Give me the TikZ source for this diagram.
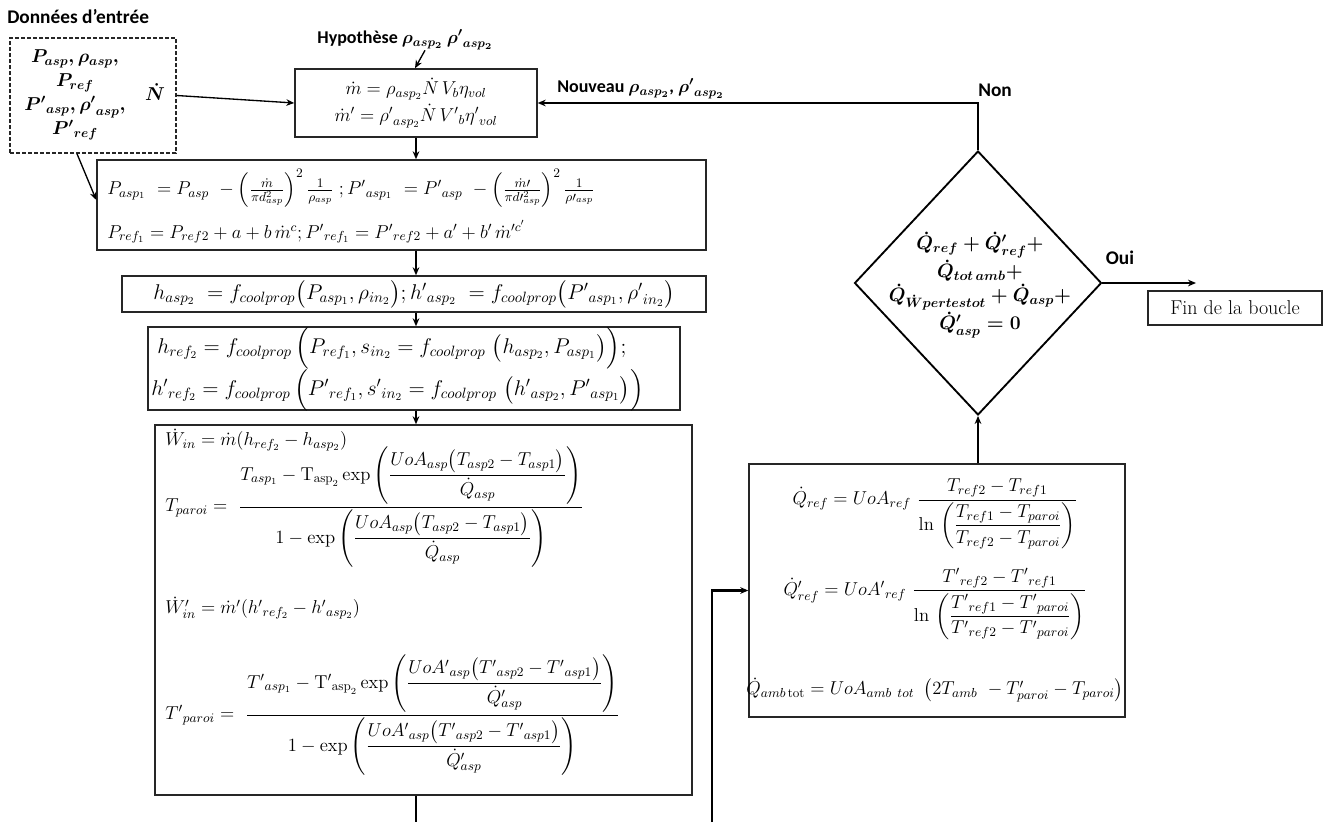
\RequirePackage{fix-cm}
\documentclass[tikz,border=0pt]{standalone}
\usepackage{amsmath}
\usepackage{fontspec}
\newfontfamily\carl{Carlito}
\usetikzlibrary{arrows.meta,shapes.geometric}
\newdimen\px \px=0.75pt
\tikzset{
  box/.style={draw=black!85, line width=1.1pt, inner sep=0pt},
  arr/.style={-{Stealth[length=6pt,width=5pt]}, line width=1pt},
  conn/.style={line width=1.6pt},
  lbl/.style={font=\carl\bfseries\fontsize{14.5}{17}\selectfont\boldmath, inner sep=0pt},
  slbl/.style={font=\carl\bfseries\fontsize{13.5}{16}\selectfont\boldmath, inner sep=0pt},
  eq/.style={font=\fontsize{14}{17}\selectfont, inner sep=0pt},
  beq/.style={font=\fontsize{16}{19}\selectfont, inner sep=0pt},
}
\begin{document}
\begin{tikzpicture}[x=0.75pt,y=-0.75pt]
\useasboundingbox (0,0) rectangle (1326,822);

% inputs
\node[lbl,anchor=west] (titre) at (7,17) {Données d’entrée};
\node[box,dashed,dash pattern=on 3pt off 1.5pt,minimum width=166\px,minimum height=115\px] (inp) at (93,95.5) {};
\node[eq,align=center,font=\fontsize{14}{17}\selectfont\boldmath] (inpt) at (75,95)
  {$P_{asp},\rho_{asp},$\\[1pt] $P_{ref}$\\[1pt] ${P'}_{asp},{\rho'}_{asp},$\\[1pt] ${P'}_{ref}$};
\node[eq,font=\fontsize{14}{17}\selectfont\boldmath] (ndot) at (155,92) {$\dot N$};

% mdot box
\node[box,eq,minimum width=242\px,minimum height=68\px,align=center] (m) at (416,103)
  {$\dot m = \rho_{asp_2}\dot N\,V_b\eta_{vol}$\\[3pt] $\dot m' = {\rho'}_{asp_2}\dot N\,{V'}_b{\eta'}_{vol}$};
\node[slbl] (hyp) at (405,40) {Hypothèse $\rho_{asp_2}\ {\rho'}_{asp_2}$};
\draw[arr] ([xshift=20\px]hyp.south) -- ([xshift=-1\px]m.north);
\node[slbl,anchor=west] (nouv) at (557,89) {Nouveau $\rho_{asp_2}$, ${\rho'}_{asp_2}$};

\draw[arr] (inp.east) -- (m.west);

% P box
\node[box,minimum width=609\px,minimum height=90\px] (pb) at (401.5,205) {};
\node[eq,anchor=west] (p1) at (107,188)
  {$P_{asp_1}\ = P_{asp}\ -\left(\frac{\dot m}{\pi d_{asp}^2}\right)^{2}\frac{1}{\rho_{asp}}\;;{P'}_{asp_1}\ = {P'}_{asp}\ -\left(\frac{\dot m\prime}{\pi d\prime_{asp}^{2}}\right)^{2}\frac{1}{\rho\prime_{asp}}$};
\node[eq,anchor=west] (p2) at (107,232)
  {$P_{ref_1} = P_{ref2} + a + b\,\dot m^{c};{P'}_{ref_1} = {P'}_{ref2} + a' + b'\,\dot{m}'^{c'}$};
\draw[arr] ([xshift=-16\px]inp.south) -- ([yshift=5\px]pb.west);

% h_asp box
\node[box,beq,minimum width=584\px,minimum height=36\px] (ha) at (414,294)
  {$h_{asp_2}\ = f_{coolprop}\bigl(P_{asp_1},\rho_{in_2}\bigr);{h'}_{asp_2}\ = f_{coolprop}\bigl({P'}_{asp_1},{\rho'}_{in_2}\bigr)$};

% h_ref box
\node[box,minimum width=532\px,minimum height=83\px] (hr) at (414,368.5) {};
\node[beq,anchor=west] (hr1) at (157,348)
  {$h_{ref_2} = f_{coolprop}\,\Bigl(P_{ref_1}, s_{in_2} = f_{coolprop}\ \bigl(h_{asp_2}, P_{asp_1}\bigr)\Bigr);$};
\node[beq,anchor=west] (hr2) at (151,390)
  {${h'}_{ref_2} = f_{coolprop}\,\Bigl({P'}_{ref_1}, {s'}_{in_2} = f_{coolprop}\ \bigl({h'}_{asp_2}, {P'}_{asp_1}\bigr)\Bigr)$};

% big box
\node[box,minimum width=537\px,minimum height=370\px] (bb) at (423.5,610) {};
\node[eq,anchor=west] (w1) at (165,440) {$\dot W_{in} = \dot m(h_{ref_2} - h_{asp_2})$};
\node[eq,anchor=west] (t1) at (165,507)
  {$T_{paroi} =\ \dfrac{T_{asp_1} - \mathrm{T}_{\mathrm{asp}_2}\exp\left(\dfrac{UoA_{asp}\bigl(T_{asp2}-T_{asp1}\bigr)}{\dot Q_{asp}}\right)}{1-\exp\left(\dfrac{UoA_{asp}\bigl(T_{asp2}-T_{asp1}\bigr)}{\dot Q_{asp}}\right)}$};
\node[eq,anchor=west] (w2) at (165,608) {${\dot W'}_{in} = \dot m'({h'}_{ref_2} - {h'}_{asp_2})$};
\node[eq,anchor=west] (t2) at (165,715)
  {${T'}_{paroi} =\ \dfrac{{T'}_{asp_1} - {\mathrm{T}'}_{\mathrm{asp}_2}\exp\left(\dfrac{{UoA'}_{asp}\bigl({T'}_{asp2}-{T'}_{asp1}\bigr)}{{\dot Q'}_{asp}}\right)}{1-\exp\left(\dfrac{{UoA'}_{asp}\bigl({T'}_{asp2}-{T'}_{asp1}\bigr)}{{\dot Q'}_{asp}}\right)}$};

% left column arrows
\draw[arr] (m.south) -- (m.south |- pb.north);
\draw[arr] (m.south |- pb.south) -- (m.south |- ha.north);
\draw[arr] (m.south |- ha.south) -- (m.south |- hr.north);
\draw[arr] (m.south |- hr.south) -- (m.south |- bb.north);
\coordinate (bot) at (416,822);
\draw[line width=1.5pt] (bot |- bb.south) -- (bot);

% diamond
\node[draw,diamond,line width=1.4pt,minimum width=247\px,minimum height=264\px,inner sep=0pt] (d) at (978,283) {};
\node[eq,align=center,font=\fontsize{14.5}{18}\selectfont\boldmath] (dt) at (980,285)
  {$\dot Q_{ref}+{\dot Q'}_{ref}+$\\ $\dot Q_{tot\,amb}+$\\ $\dot Q_{\dot W pertestot}+\dot Q_{asp}+$\\ $\dot Q'_{asp}=0$};
\node[lbl] (non) at (995,90) {Non};
\node[lbl] (oui) at (1120,258) {Oui};
\draw[arr,conn] (d.north) |- (m.east);
\coordinate (fa) at (1196,283);
\draw[arr,conn] (d.east) -- (fa);
\node[box,minimum width=174\px,minimum height=34\px,font=\fontsize{15}{18}\selectfont] (fin) at (1235,308) {Fin de la boucle};

% right box
\node[box,minimum width=376\px,minimum height=253\px] (rb) at (937,590.5) {};
\node[eq] (q1) at (935,514)
  {$\dot Q_{ref} = UoA_{ref}\ \dfrac{T_{ref2}-T_{ref1}}{\ln\,\left(\dfrac{T_{ref1}-T_{paroi}}{T_{ref2}-T_{paroi}}\right)}$};
\node[eq] (q2) at (935,604)
  {${\dot Q'}_{ref} = {UoA'}_{ref}\ \dfrac{{T'}_{ref2}-{T'}_{ref1}}{\ln\,\left(\dfrac{{T'}_{ref1}-{T'}_{paroi}}{{T'}_{ref2}-{T'}_{paroi}}\right)}$};
\node[eq] (q3) at (935,690)
  {$\dot Q_{amb\,\mathrm{tot}} = UoA_{amb\ tot}\ \left(2T_{amb}\ - T'_{paroi} - T_{paroi}\right)$};
\draw[arr,conn] (d.south |- rb.north) -- (d.south);
\coordinate (lb) at (712,822);
\draw[arr,line width=2.2pt] (lb) |- (rb.west);
\end{tikzpicture}
\end{document}
